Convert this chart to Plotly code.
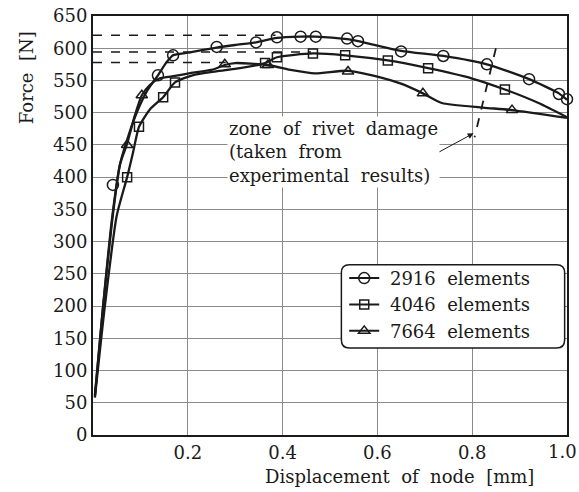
import plotly.graph_objects as go

# ---- data ----
x_2916 = [0.004, 0.02, 0.04, 0.057, 0.075, 0.095, 0.115, 0.137, 0.155, 0.169, 0.2, 0.261, 0.30, 0.344, 0.388, 0.438, 0.47, 0.536, 0.559, 0.65, 0.739, 0.831, 0.92, 0.983, 1.0]
y_2916 = [62, 190, 330, 420, 465, 505, 535, 558, 578, 589, 593, 601, 605, 609, 616, 618, 618, 614, 611, 596, 588, 575, 552, 530, 520]
mx_2916 = [0.042, 0.137, 0.169, 0.261, 0.344, 0.388, 0.438, 0.47, 0.536, 0.559, 0.65, 0.739, 0.831, 0.92, 0.983, 1.0]
my_2916 = [388, 558, 589, 602, 609, 617, 618, 618, 615, 611, 595, 588, 575, 552, 529, 521]

x_4046 = [0.004, 0.025, 0.05, 0.072, 0.085, 0.097, 0.12, 0.148, 0.173, 0.21, 0.26, 0.31, 0.363, 0.388, 0.464, 0.532, 0.622, 0.707, 0.80, 0.869, 0.94, 1.0]
y_4046 = [58, 200, 340, 400, 440, 478, 505, 524, 547, 558, 564, 569, 577, 586, 592, 589, 581, 569, 553, 536, 515, 493]
mx_4046 = [0.072, 0.097, 0.148, 0.173, 0.363, 0.388, 0.464, 0.532, 0.622, 0.707, 0.869]
my_4046 = [400, 478, 524, 547, 577, 586, 592, 589, 581, 569, 536]

x_7664 = [0.004, 0.02, 0.04, 0.057, 0.072, 0.088, 0.103, 0.12, 0.14, 0.173, 0.21, 0.253, 0.278, 0.30, 0.369, 0.42, 0.468, 0.538, 0.60, 0.65, 0.696, 0.736, 0.823, 0.884, 1.0]
y_7664 = [60, 190, 335, 420, 452, 495, 527, 543, 553, 557, 562, 567, 574, 577, 574, 566, 561, 565, 556, 545, 530, 515, 508, 504, 492]
mx_7664 = [0.072, 0.103, 0.278, 0.369, 0.538, 0.696, 0.884]
my_7664 = [450, 527, 575, 574, 564, 530, 504]

series_names = ["2916 elements", "4046 elements", "7664 elements"]

# maximum-force reference levels (dashed) and how far they run
peak_levels = [620, 594, 578]
peak_ends = [0.385, 0.46, 0.28]

# zone of rivet damage (dashed slanted line)
zone_x = [0.85, 0.805]
zone_y = [600, 462]

# leader line from the note to the zone line
leader_x = [0.585, 0.71]
leader_y = [431, 431]
arrow_tip = (0.803, 468)

x_ticks = [0.2, 0.4, 0.6, 0.8, 1.0]
x_ticklabels = ["0.2", "0.4", "0.6", "0.8", "1.0"]
y_ticks = list(range(0, 651, 50))

FONT = "DejaVu Serif"
INK = "#1a1a1a"
SP = "\u00a0 "  # widened word spacing like the printed figure


def spaced(s):
    return s.replace(" ", SP)


fig = go.Figure()

# dashed peak levels
for lvl, end in zip(peak_levels, peak_ends):
    fig.add_trace(go.Scatter(x=[0, end], y=[lvl, lvl], mode="lines",
                             line=dict(color=INK, width=1.5, dash="dash"),
                             showlegend=False, hoverinfo="skip"))

symbols = ["circle-open", "square-open", "triangle-up-open"]
sizes = [11, 9, 10]
curves = [(x_2916, y_2916, mx_2916, my_2916),
          (x_4046, y_4046, mx_4046, my_4046),
          (x_7664, y_7664, mx_7664, my_7664)]

for (cx, cy, mx, my), sym, sz, name in zip(curves, symbols, sizes, series_names):
    fig.add_trace(go.Scatter(x=cx, y=cy, mode="lines",
                             line=dict(color=INK, width=2.3, shape="spline", smoothing=0.6),
                             showlegend=False, hoverinfo="skip", cliponaxis=False))
    fig.add_trace(go.Scatter(x=mx, y=my, mode="markers",
                             marker=dict(symbol=sym, size=sz, color=INK, line=dict(width=1.5, color=INK)),
                             showlegend=False, cliponaxis=False))
    fig.add_trace(go.Scatter(x=[None], y=[None], mode="lines+markers", name="\u00a0" + spaced(name),
                             line=dict(color=INK, width=2),
                             marker=dict(symbol=sym, size=sz, color=INK, line=dict(width=1.5, color=INK))))

# rivet damage zone
fig.add_trace(go.Scatter(x=zone_x, y=zone_y, mode="lines",
                         line=dict(color=INK, width=1.8, dash="dash"),
                         showlegend=False, hoverinfo="skip"))
fig.add_trace(go.Scatter(x=leader_x, y=leader_y, mode="lines",
                         line=dict(color=INK, width=1),
                         showlegend=False, hoverinfo="skip"))

fig.add_annotation(x=arrow_tip[0], y=arrow_tip[1], ax=leader_x[1], ay=leader_y[1],
                   xref="x", yref="y", axref="x", ayref="y", text="",
                   showarrow=True, arrowhead=2, arrowsize=1.2, arrowwidth=1, arrowcolor=INK)

fig.add_annotation(x=0.283, y=439, xref="x", yref="y", xanchor="left", yanchor="middle",
                   text=spaced("zone of rivet damage") + "<br>" + spaced("(taken from") + "<br>"
                   + spaced("experimental results)"),
                   align="left", showarrow=False, bgcolor="white", borderpad=1,
                   font=dict(family=FONT, size=18, color=INK))

# axis titles
fig.add_annotation(x=-0.141, y=0.852, xref="paper", yref="paper", xanchor="center", yanchor="middle",
                   text=spaced("Force [N]"), textangle=-90, showarrow=False,
                   font=dict(family=FONT, size=18, color=INK))
fig.add_annotation(x=0.646, y=-0.100, xref="paper", yref="paper", xanchor="center", yanchor="middle",
                   text=spaced("Displacement of node [mm]"),
                   showarrow=False, font=dict(family=FONT, size=18, color=INK))

# last x tick label sits flush with the right edge (kept inside the page)
fig.add_annotation(x=x_ticks[-1], y=-0.04, xref="x", yref="paper", xanchor="right", yanchor="middle",
                   xshift=12, text=x_ticklabels[-1], showarrow=False,
                   font=dict(family=FONT, size=18, color=INK))

# rounded legend frame
r_x, r_y = 0.017, 12.4
x0, x1, y0, y1 = 0.524, 0.995, 135, 264
path = (f"M {x0+r_x},{y0} L {x1-r_x},{y0} Q {x1},{y0} {x1},{y0+r_y} "
        f"L {x1},{y1-r_y} Q {x1},{y1} {x1-r_x},{y1} L {x0+r_x},{y1} "
        f"Q {x0},{y1} {x0},{y1-r_y} L {x0},{y0+r_y} Q {x0},{y0} {x0+r_x},{y0} Z")
fig.add_shape(type="path", path=path, xref="x", yref="y", layer="above",
              fillcolor="white", line=dict(color=INK, width=1.5))

fig.update_layout(
    width=579, height=492,
    margin=dict(l=93, r=12, t=16, b=57, autoexpand=False),
    paper_bgcolor="white", plot_bgcolor="white",
    font=dict(family=FONT, size=18, color=INK),
    legend=dict(x=0.530, y=0.418, xanchor="left", yanchor="top",
                bgcolor="rgba(0,0,0,0)", borderwidth=0,
                font=dict(family=FONT, size=18, color=INK),
                tracegroupgap=0, itemwidth=30),
)
fig.update_xaxes(range=[0, 1], tickvals=x_ticks[:-1], ticktext=x_ticklabels[:-1],
                 showgrid=True, gridcolor="#8a8a8a", gridwidth=1,
                 showline=True, linecolor=INK, linewidth=2, mirror=True,
                 ticks="", zeroline=False, automargin=False,
                 tickfont=dict(family=FONT, size=18, color=INK))
fig.update_yaxes(range=[0, 650], tickvals=y_ticks,
                 showgrid=True, gridcolor="#8a8a8a", gridwidth=1,
                 showline=True, linecolor=INK, linewidth=2, mirror=True,
                 ticks="", zeroline=False, automargin=False,
                 tickfont=dict(family=FONT, size=18, color=INK))

fig.write_html("out.html")
